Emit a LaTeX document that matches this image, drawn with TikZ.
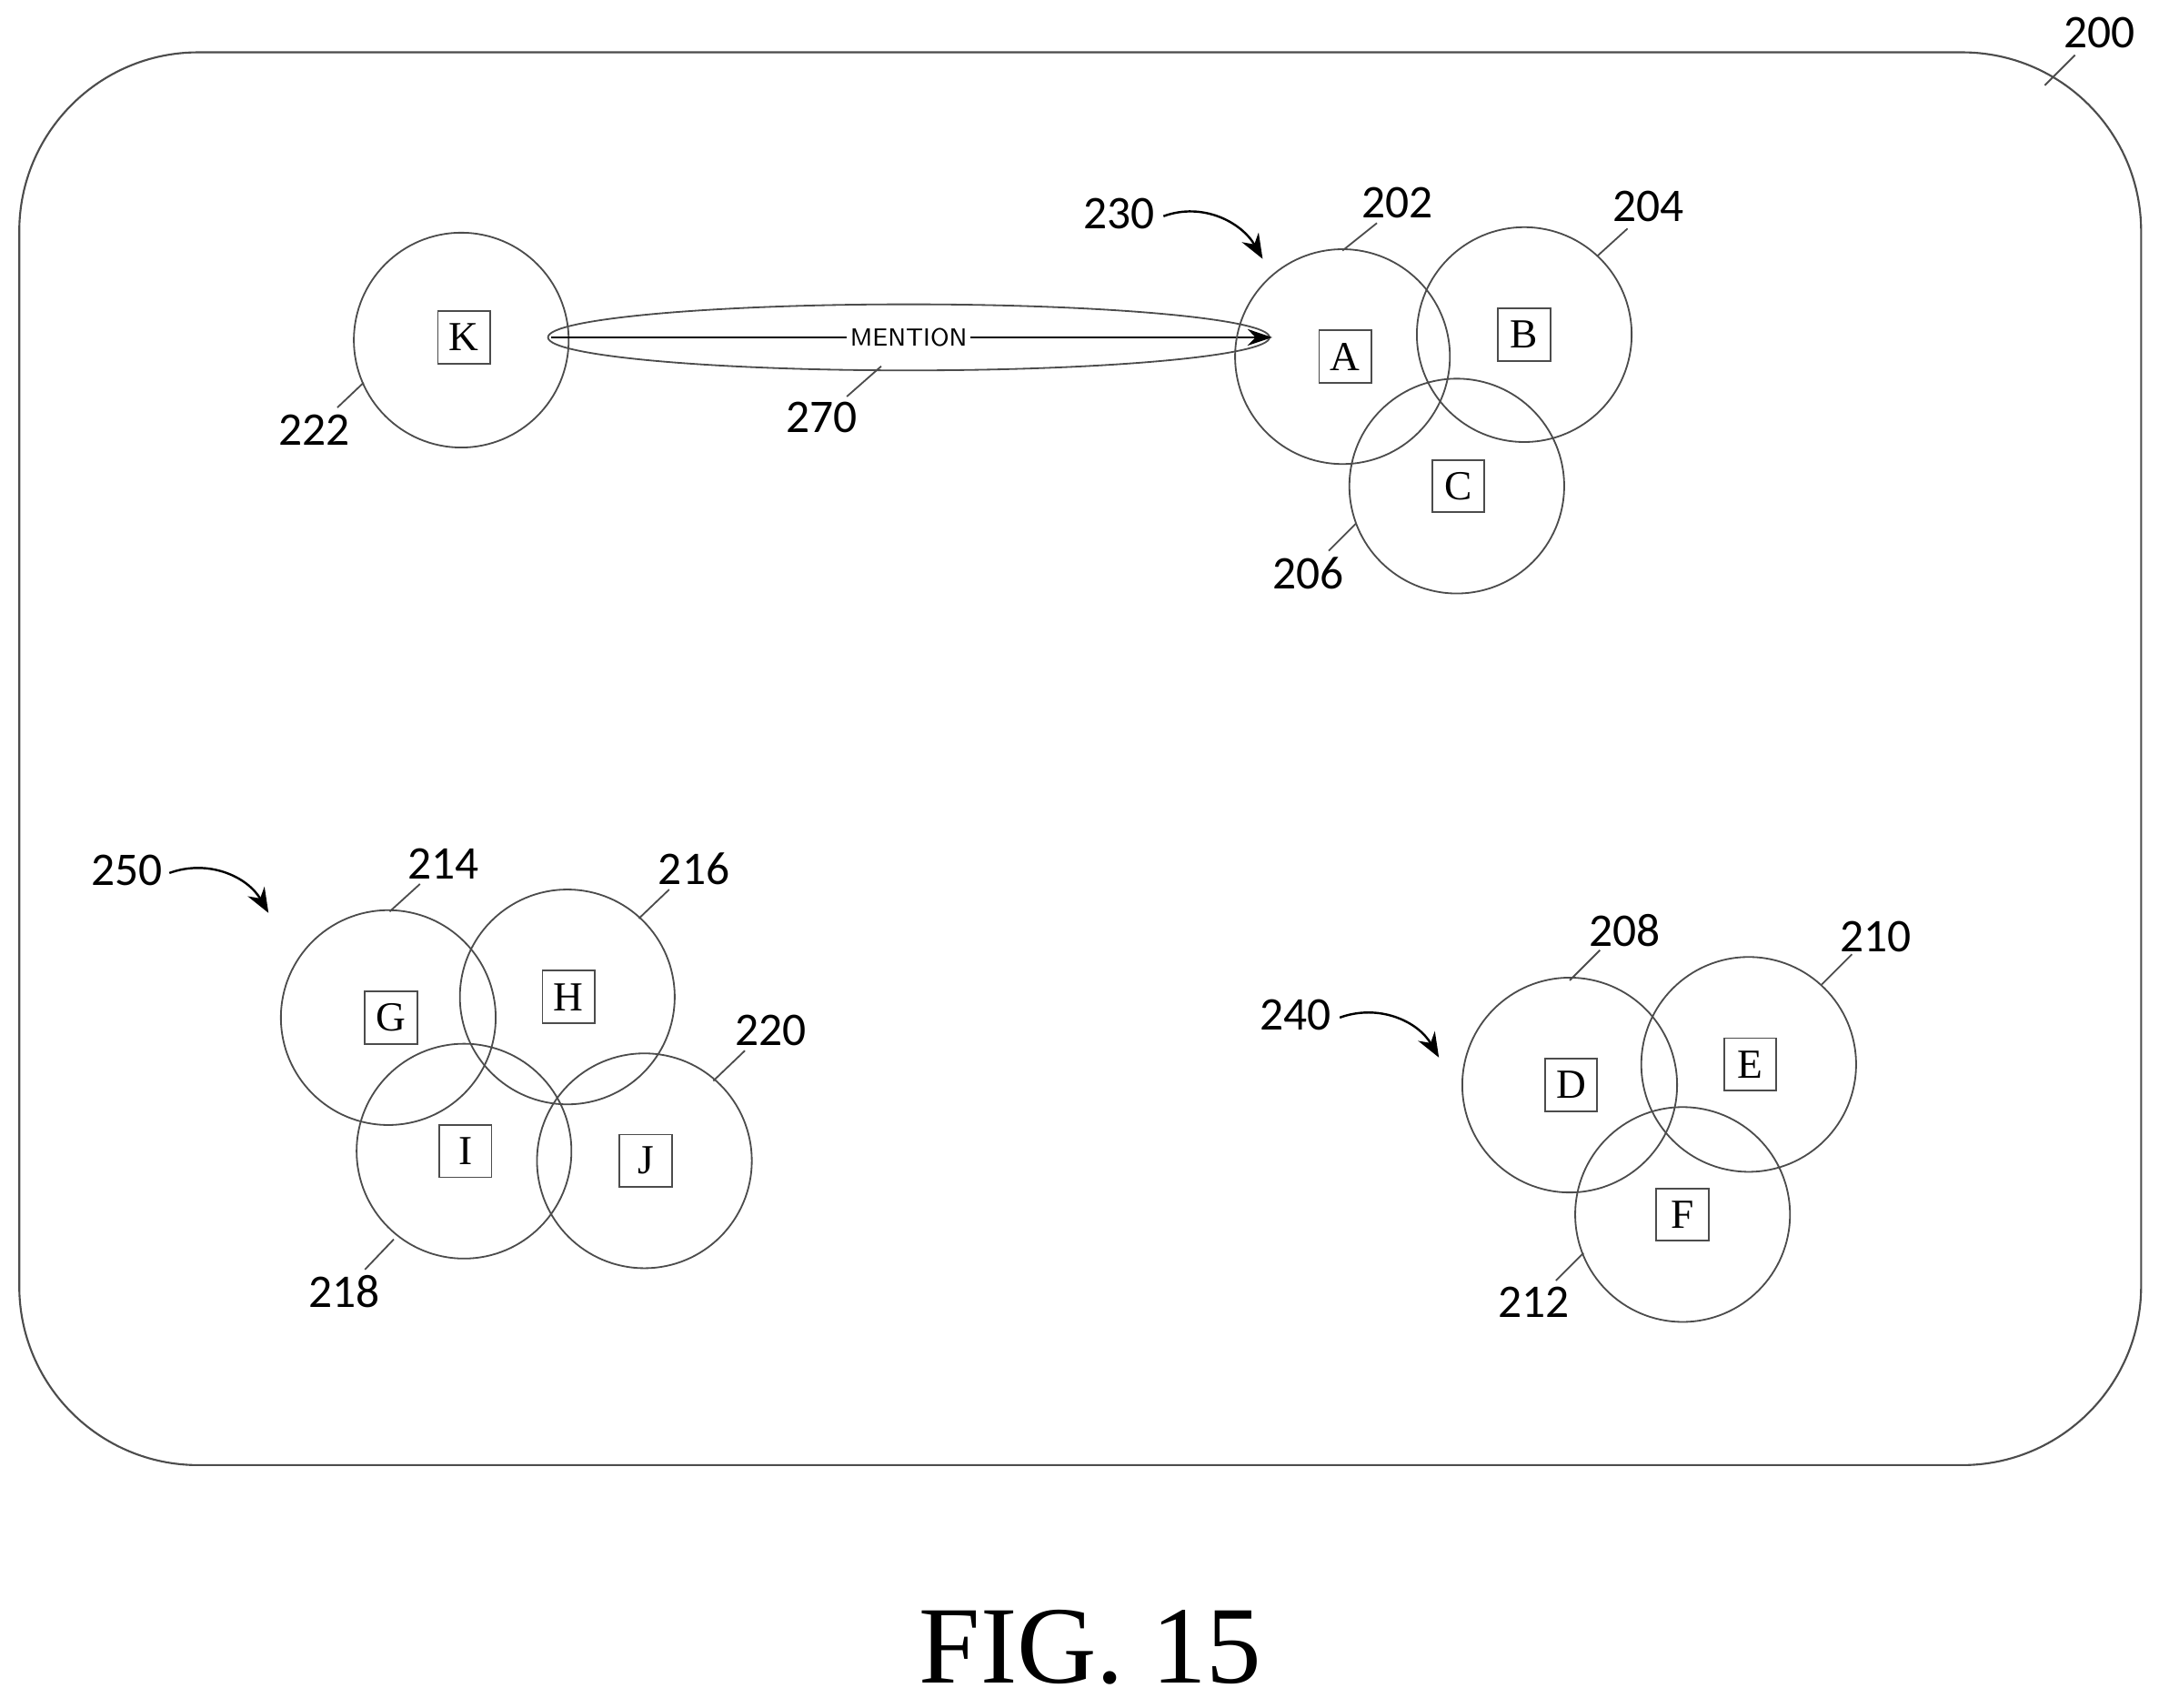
\documentclass[tikz,border=0pt]{standalone}
\usepackage{fontspec}
\setmainfont{Liberation Serif}
\newfontfamily\lbl{Carlito}
\usetikzlibrary{arrows.meta}
\begin{document}
\begin{tikzpicture}[x=0.5pt,y=-0.5pt,
  circ/.style={draw=black!70,line width=0.6pt,circle,minimum size=78pt,inner sep=0},
  box/.style={draw=black!70,line width=0.6pt,fill=white,minimum size=19pt,inner sep=0,font=\fontsize{15}{15}\selectfont},
  num/.style={font=\lbl\fontsize{17}{17}\selectfont},
  lead/.style={draw=black!70,line width=0.6pt},
  curv/.style={draw=black,line width=0.8pt,-{Stealth[length=9pt,width=7pt]}}]
\useasboundingbox (0,0) rectangle (1568,1240);
\draw[black!70,line width=0.7pt,rounded corners=65pt] (14,38) rectangle (1555,1064);
\node[num] (n200) at (1525,24) {200};
\coordinate (l200) at (1485,62);
\draw[lead] (l200) -- (1507,40);
% K
\node[circ] (cK) at (335,247) {};
\node[box] (K) at (337,245) {K};
\node[num] (n222) at (228,312) {222};
\draw[lead] (245,296) -- (264,278);
% mention
\draw[black!70,line width=0.6pt] (660,245) ellipse (262 and 24);
\node[font=\sffamily\fontsize{9}{9}\selectfont,fill=white,inner sep=1pt] (m) at (660,245) {MENTION};
\coordinate (ms) at (400,245);
\coordinate (me) at (924,245);
\draw[black,line width=0.5pt] (ms) -- (m.west);
\draw[black,line width=0.5pt,-{Stealth[length=9pt,width=6pt]}] (m.east) -- (me);
\node[num] (n270) at (597,303) {270};
\draw[lead] (615,288) -- (640,266);
% A B C
\node[circ] (cA) at (975,259) {};
\node[circ] (cB) at (1107,243) {};
\node[circ] (cC) at (1058,353) {};
\node[box] (A) at (977,259) {A};
\node[box] (B) at (1107,243) {B};
\node[box] (C) at (1059,353) {C};
\node[num] (n202) at (1015,147) {202};
\draw[lead] (975,182) -- (1000,162);
\node[num] (n204) at (1197,150) {204};
\draw[lead] (1160,186) -- (1182,166);
\node[num] (n206) at (950,416) {206};
\draw[lead] (965,400) -- (985,380);
\node[num] (n230) at (813,155) {230};
\draw[curv] (845,157) to[out=20,in=120] (917,188);
% D E F
\node[circ] (cD) at (1140,788) {};
\node[circ] (cE) at (1270,773) {};
\node[circ] (cF) at (1222,882) {};
\node[box] (D) at (1141,788) {D};
\node[box] (E) at (1271,773) {E};
\node[box] (F) at (1222,882) {F};
\node[num] (n208) at (1180,676) {208};
\draw[lead] (1140,712) -- (1162,690);
\node[num] (n210) at (1362,680) {210};
\draw[lead] (1323,715) -- (1345,693);
\node[num] (n212) at (1114,946) {212};
\draw[lead] (1130,930) -- (1150,910);
\node[num] (n240) at (941,737) {240};
\draw[curv] (973,739) to[out=20,in=120] (1045,768);
% G H I J
\node[circ] (cG) at (282,739) {};
\node[circ] (cH) at (412,724) {};
\node[circ] (cI) at (337,836) {};
\node[circ] (cJ) at (468,843) {};
\node[box] (G) at (284,739) {G};
\node[box] (H) at (413,724) {H};
\node[box] (I) at (338,836) {I};
\node[box] (J) at (469,843) {J};
\node[num] (n214) at (322,627) {214};
\draw[lead] (283,662) -- (305,642);
\node[num] (n216) at (504,631) {216};
\draw[lead] (464,667) -- (486,646);
\node[num] (n220) at (560,748) {220};
\draw[lead] (518,785) -- (541,763);
\node[num] (n218) at (250,938) {218};
\draw[lead] (265,922) -- (286,900);
\node[num] (n250) at (92,632) {250};
\draw[curv] (123,634) to[out=20,in=120] (195,663);
\node[font=\fontsize{40}{40}\selectfont] (fig) at (792,1196) {FIG. 15};
\end{tikzpicture}
\end{document}
